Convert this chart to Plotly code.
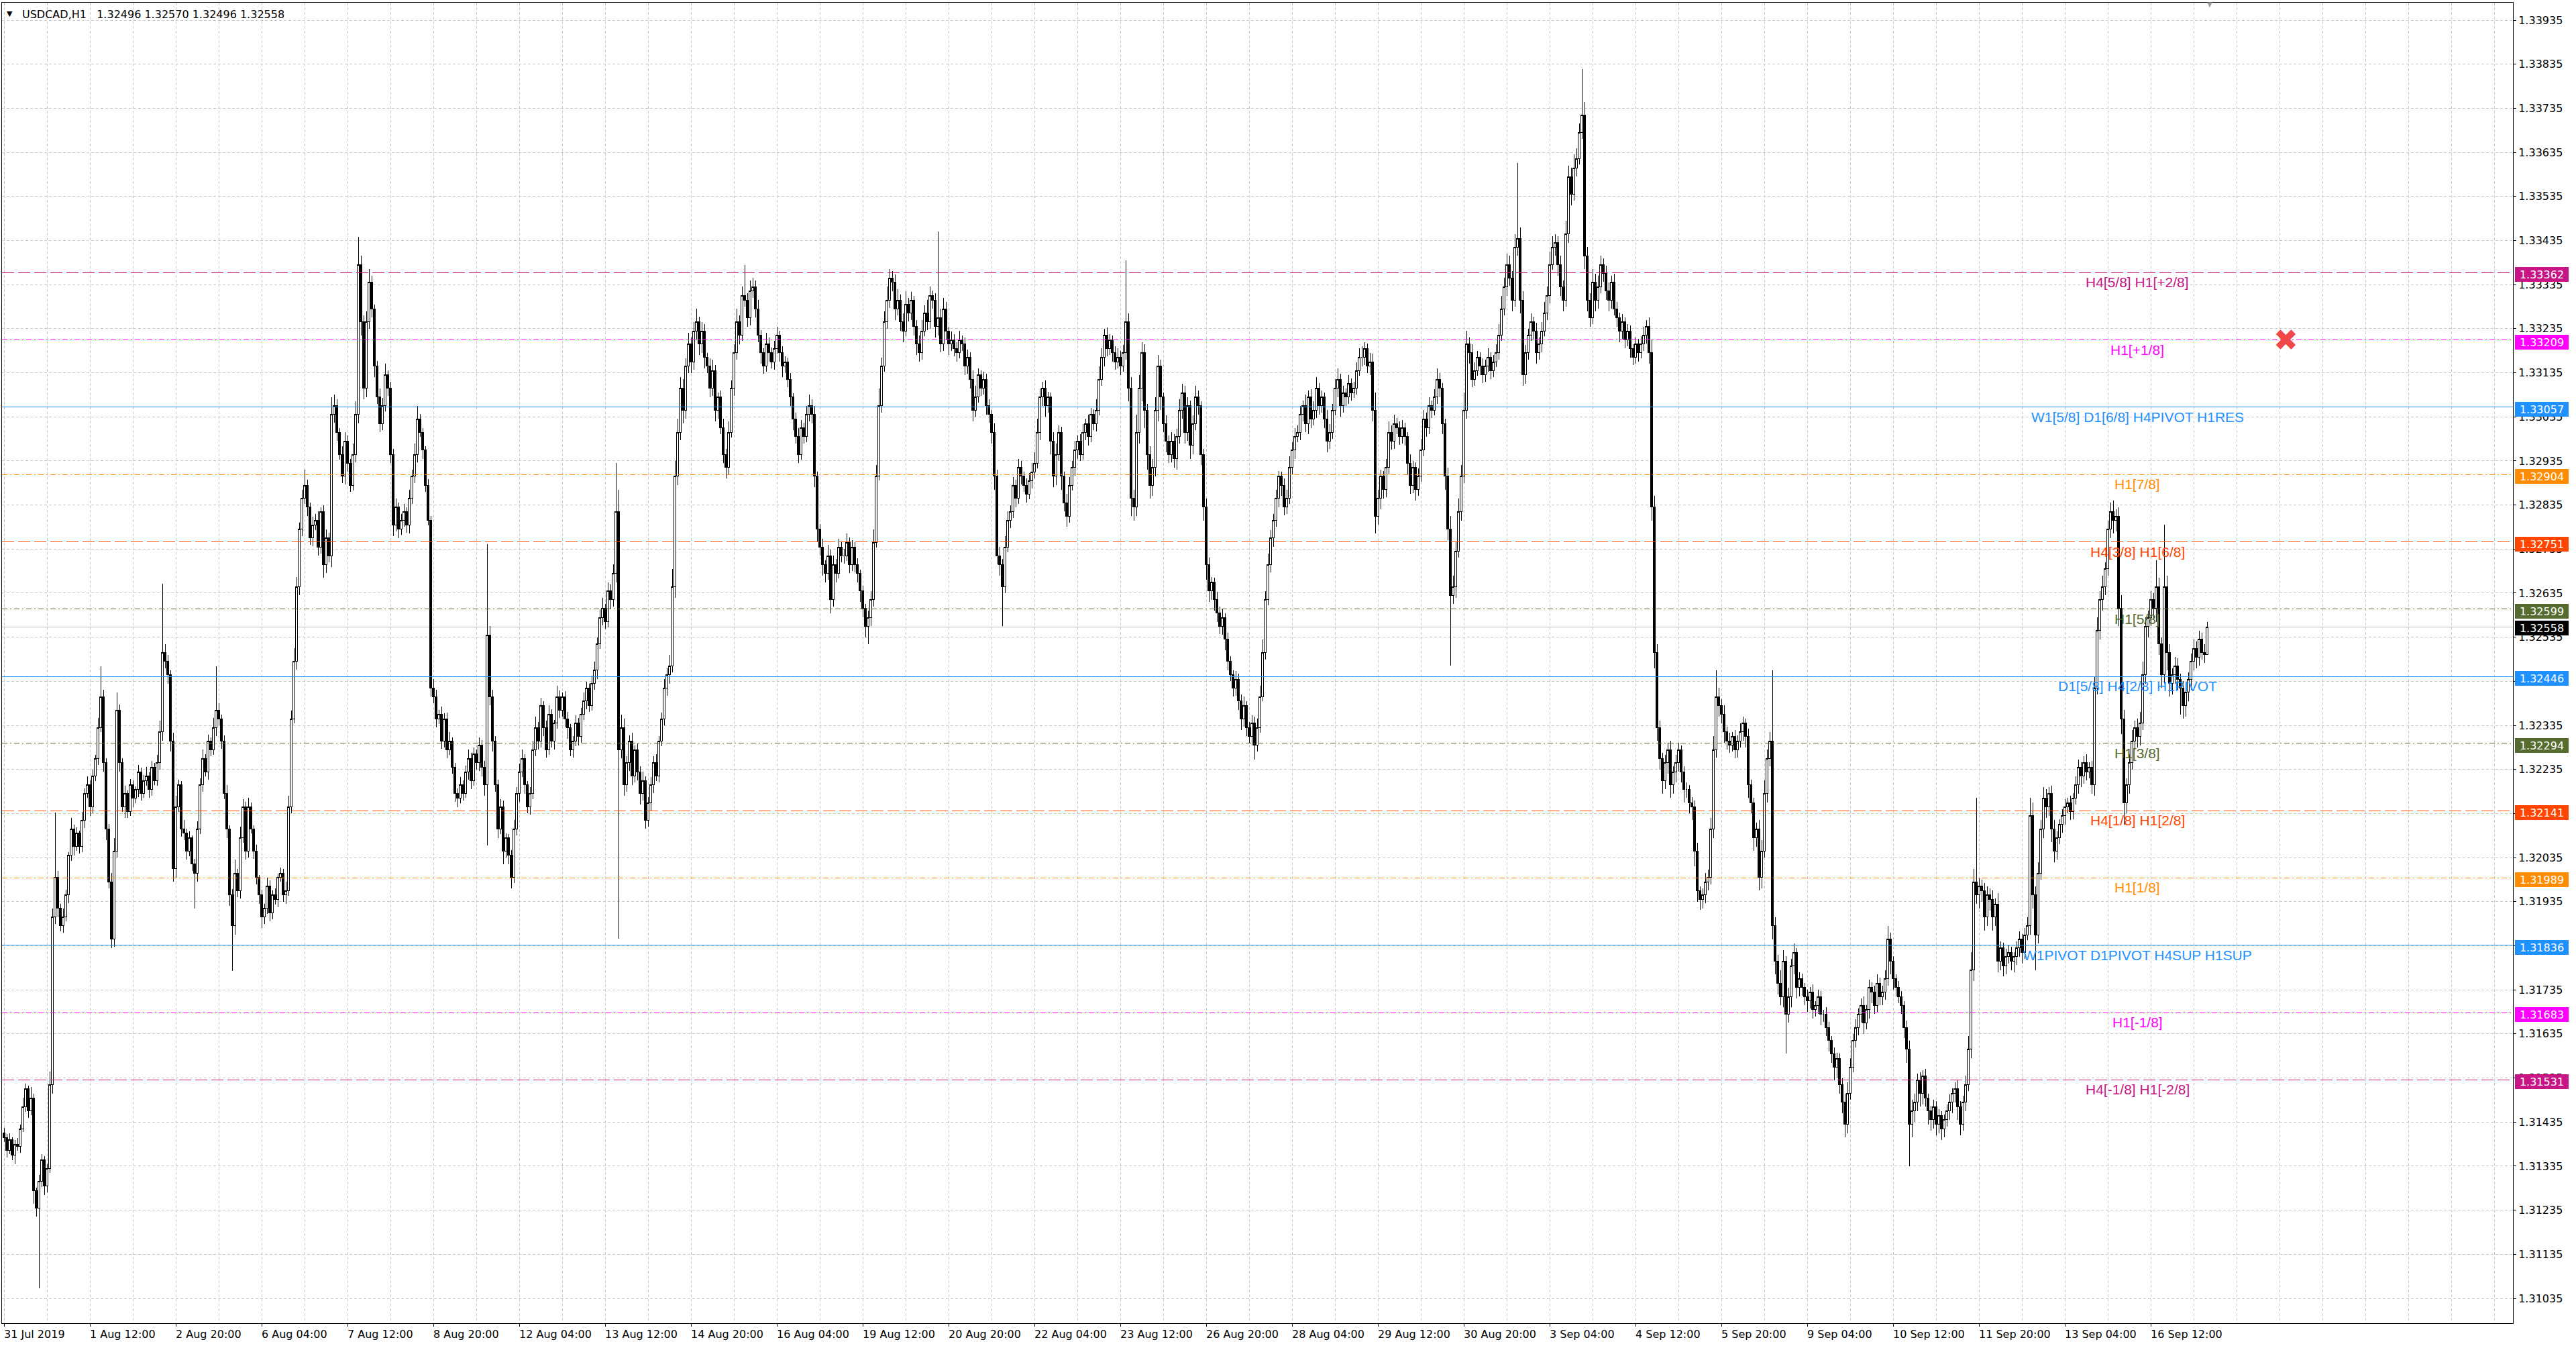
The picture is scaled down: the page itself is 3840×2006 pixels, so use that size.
import plotly.graph_objects as go

# ---------------- data (prices in points above 1.30000) ----------------
first_open = 1410
closes = [
    1400,1370,1395,1360,1385,1380,1420,1470,1510,1460,1490,1280,1240,1300,1350,1290,1330,1520,1900,1990,
    1920,1880,1900,1950,2040,2100,2060,2090,2060,2120,2180,2200,2150,2220,2260,2330,2400,2250,2100,1980,
    1850,2050,2370,2250,2150,2180,2140,2200,2170,2190,2230,2180,2210,2220,2190,2240,2210,2250,2320,2500,
    2480,2450,2300,2010,2150,2200,2100,2090,2050,2080,2020,2000,2100,2200,2260,2230,2300,2280,2330,2370,
    2350,2300,2180,2100,1950,1880,2000,1960,2080,2150,2050,2150,2100,2050,1990,1950,1900,1920,1970,1910,
    1950,1940,1990,2000,1950,1960,2150,2350,2480,2650,2780,2850,2880,2830,2760,2790,2800,2740,2820,2700,
    2760,2720,3040,3060,3000,2950,2900,2980,2930,2880,2950,3040,3380,3250,3100,3250,3340,3280,3150,3080,
    3020,3060,3130,3100,2950,2790,2830,2780,2800,2820,2790,2850,2900,2950,3030,3000,2960,2880,2800,2420,
    2400,2350,2360,2300,2350,2280,2300,2240,2180,2170,2200,2180,2230,2260,2210,2270,2250,2290,2240,2200,
    2540,2400,2300,2200,2100,2150,2050,2080,2040,1990,2100,2180,2230,2260,2200,2150,2180,2280,2330,2300,
    2380,2330,2280,2360,2300,2340,2400,2370,2400,2350,2330,2280,2300,2340,2310,2360,2390,2420,2380,2430,
    2460,2520,2580,2600,2570,2640,2620,2680,2820,2280,2330,2200,2250,2300,2220,2280,2230,2180,2210,2120,
    2160,2200,2250,2220,2300,2350,2420,2450,2470,2650,2900,3000,3100,3050,3150,3200,3160,3230,3250,3200,
    3230,3170,3150,3100,3140,3050,3080,3010,2950,2920,3000,3100,3180,3250,3220,3310,3300,3260,3320,3330,
    3280,3220,3180,3150,3200,3180,3160,3190,3220,3180,3150,3160,3120,3080,3030,2990,2950,3010,2990,3040,
    3060,3040,2900,2780,2740,2700,2680,2720,2620,2700,2680,2740,2720,2720,2750,2700,2740,2700,2680,2640,
    2600,2560,2580,2620,2750,2900,3060,3150,3250,3300,3350,3340,3280,3300,3250,3230,3290,3270,3300,3240,
    3200,3180,3230,3270,3250,3310,3300,3240,3260,3200,3280,3230,3200,3210,3190,3180,3210,3200,3150,3170,
    3120,3050,3080,3130,3100,3120,3060,3040,3000,2900,2720,2700,2650,2740,2800,2820,2880,2850,2920,2900,
    2880,2860,2890,2910,2930,3000,3080,3100,3060,3080,2980,2900,2950,3000,2900,2840,2810,2880,2920,2960,
    2980,2950,3000,3020,2990,3040,3020,3050,3120,3170,3220,3190,3210,3180,3160,3170,3150,3180,3250,3100,
    2850,2830,3000,3100,3180,3050,2950,2880,2920,3050,3150,3080,3020,2980,2950,2980,2940,2990,3050,3090,
    3000,3060,2970,3020,3080,3060,2950,2830,2700,2640,2660,2620,2590,2560,2580,2530,2480,2450,2420,2440,
    2390,2350,2380,2330,2310,2340,2290,2330,2400,2500,2620,2700,2760,2800,2850,2900,2880,2830,2850,2920,
    2960,2990,3000,3040,3060,3020,3080,3030,3050,3100,3060,3080,3030,2980,3000,3050,3100,3120,3060,3090,
    3080,3110,3090,3100,3140,3170,3170,3190,3150,3160,3050,2810,2850,2900,2870,2920,3000,2980,3020,3010,
    2990,3010,2990,2930,2880,2920,2870,2900,2960,3030,3010,3060,3050,3080,3120,3100,3020,2900,2780,2630,
    2650,2730,2820,2900,3050,3200,3180,3120,3140,3170,3150,3130,3150,3170,3140,3160,3180,3220,3280,3330,
    3380,3350,3300,3420,3440,3300,3130,3180,3220,3250,3230,3180,3200,3230,3270,3310,3380,3420,3430,3380,
    3330,3300,3450,3580,3540,3600,3620,3680,3720,3400,3300,3260,3340,3300,3330,3380,3360,3320,3300,3340,
    3280,3260,3230,3250,3210,3230,3190,3170,3200,3180,3200,3220,3240,3180,2830,2500,2330,2260,2210,2250,
    2280,2200,2230,2250,2280,2230,2190,2190,2160,2150,2050,1960,1940,1950,1980,1990,2100,2280,2400,2380,
    2360,2320,2300,2290,2310,2280,2300,2320,2340,2310,2200,2160,2080,2100,1990,2050,2180,2260,2300,1880,
    1800,1750,1720,1800,1680,1720,1790,1820,1740,1760,1740,1720,1710,1730,1690,1700,1720,1680,1680,1650,
    1620,1590,1560,1580,1520,1480,1430,1500,1560,1620,1650,1680,1700,1660,1690,1740,1730,1700,1750,1720,
    1730,1760,1850,1800,1760,1740,1720,1700,1650,1600,1430,1460,1480,1530,1500,1540,1490,1460,1440,1470,
    1430,1450,1420,1440,1460,1480,1500,1510,1470,1430,1480,1520,1600,1780,1980,1950,1970,1960,1900,1950,
    1940,1900,1930,1800,1830,1790,1810,1820,1800,1810,1830,1850,1820,1860,1880,2130,1950,1860,2000,2100,
    2170,2150,2180,2100,2050,2080,2110,2130,2150,2160,2140,2170,2200,2240,2220,2250,2230,2240,2200,2420,
    2550,2620,2650,2690,2780,2820,2800,2810,2600,2350,2160,2200,2250,2300,2330,2310,2340,2450,2560,2580,
    2620,2600,2650,2520,2450,2650,2500,2430,2450,2470,2440,2420,2380,2410,2440,2480,2510,2490,2530,2500,
    2496,2558,
]
upper_wicks = [
    12,8,15,6,10,14,9,20,12,8,25,10,6,15,12,8,10,30,20,147,
    15,10,20,12,8,25,10,14,6,18,12,20,10,15,8,22,69,15,10,12,
    20,30,40,12,10,18,8,14,10,6,15,9,12,20,8,14,10,18,25,157,
    20,15,10,18,25,12,8,20,10,14,6,12,18,15,20,10,14,8,22,99,
    15,10,12,20,8,14,30,10,25,18,12,20,10,8,14,6,12,10,20,14,
    10,15,8,12,10,20,25,18,30,22,15,20,35,12,10,18,14,20,10,15,
    20,12,40,25,15,10,18,20,12,10,25,30,63,20,15,25,30,15,10,12,
    20,18,25,10,15,12,20,10,14,18,10,20,15,25,30,12,10,8,14,10,
    20,15,10,18,12,14,20,8,10,12,18,10,14,20,12,15,10,18,12,14,
    206,20,15,10,12,18,14,10,8,12,20,15,18,20,10,8,15,20,25,12,
    18,10,15,20,12,8,25,14,10,12,15,8,10,18,12,15,20,14,10,18,
    20,15,18,25,10,20,14,20,110,50,30,20,15,12,18,10,14,12,20,10,
    12,18,15,20,10,14,20,15,25,40,35,30,25,20,18,25,15,20,30,12,
    20,15,10,18,25,12,10,15,20,12,25,18,20,30,15,20,70,15,25,20,
    15,20,12,10,25,15,12,18,20,10,15,12,10,14,8,15,20,18,12,20,
    25,15,20,10,12,18,10,25,14,20,12,18,10,15,20,12,15,10,14,8,
    12,10,15,20,30,25,40,20,25,30,20,15,18,25,12,20,30,15,18,10,
    15,20,25,18,30,20,12,15,196,20,25,15,10,18,12,15,20,10,15,18,
    12,20,25,15,10,18,12,15,10,20,15,20,12,25,20,15,18,12,20,15,
    10,15,18,20,25,30,20,15,18,12,10,20,25,15,12,10,20,18,15,20,
    12,15,18,10,20,15,12,25,30,20,15,18,12,10,15,20,14,18,140,20,
    25,20,40,30,25,20,15,18,20,30,25,15,10,18,12,20,15,18,25,20,
    15,20,12,18,25,15,10,12,20,15,12,10,18,14,20,10,15,12,10,18,
    12,15,20,10,12,18,15,20,25,30,20,25,18,15,20,12,10,15,20,25,
    18,20,15,20,12,25,15,18,20,25,12,15,10,20,18,15,20,25,12,15,
    10,20,12,15,18,20,25,15,12,20,18,40,20,15,12,20,25,15,20,12,
    15,18,12,10,20,15,12,18,25,20,15,20,12,18,25,15,12,10,20,30,
    25,20,30,25,40,30,15,20,18,15,12,18,15,20,12,15,20,25,30,20,
    25,20,15,30,170,25,20,18,15,20,12,18,15,20,25,20,30,25,20,15,
    20,15,30,25,20,30,25,20,104,30,20,15,30,20,25,20,15,18,20,15,
    20,15,12,18,10,15,12,10,15,12,18,20,15,20,30,25,20,15,12,18,
    15,20,12,18,15,10,12,15,10,12,15,18,10,15,20,18,25,30,60,20,
    15,20,12,18,10,15,12,20,15,10,18,12,10,15,20,25,30,20,20,160,
    20,15,30,25,12,20,15,20,10,15,12,10,15,12,18,10,15,12,10,15,
    12,10,15,12,10,15,20,25,20,15,18,12,15,20,10,18,12,15,20,12,
    15,20,30,15,12,10,15,12,10,15,20,25,20,15,18,12,15,10,12,15,
    12,15,10,12,15,18,12,15,20,12,15,20,30,40,30,190,20,15,18,20,
    15,20,12,25,15,12,18,15,12,10,15,18,12,15,20,40,30,20,25,20,
    25,20,15,18,20,15,12,15,18,10,15,12,20,18,12,15,20,12,15,25,
    30,20,25,15,20,20,25,15,20,30,20,15,20,25,15,20,25,30,20,15,
    20,15,59,20,15,140,25,20,15,20,18,12,15,20,15,18,20,15,20,15,
    20,12,
]
lower_wicks = [
    10,15,8,12,20,10,14,8,12,15,10,30,20,182,12,20,15,10,20,15,
    20,12,15,10,18,12,20,10,15,12,18,10,20,14,12,15,10,20,25,15,
    20,18,15,20,12,25,15,10,20,12,18,15,10,12,20,15,10,12,15,20,
    15,20,25,30,20,12,18,15,20,12,15,80,20,12,15,10,18,15,12,20,
    15,18,12,20,25,102,20,15,18,12,20,15,10,18,15,20,25,15,12,20,
    15,12,18,10,15,20,12,15,10,18,20,15,12,20,15,18,12,20,15,30,
    20,15,25,18,20,12,15,18,20,15,12,18,20,30,25,20,15,20,25,15,
    20,15,12,18,20,25,15,20,12,15,18,20,12,15,18,10,20,15,12,20,
    15,20,12,18,15,20,12,15,18,20,12,15,10,18,20,12,15,18,20,25,
    137,20,25,15,20,12,30,15,20,25,12,15,18,12,20,15,18,12,15,20,
    15,20,18,12,15,20,12,18,15,20,25,15,18,12,20,15,12,18,15,12,
    15,20,12,18,15,12,20,15,20,429,20,25,15,18,20,15,20,25,15,20,
    15,20,18,12,15,12,15,18,20,15,25,20,18,30,20,15,25,18,20,25,
    20,25,15,20,18,25,20,15,20,25,15,12,18,15,20,12,15,20,18,15,
    20,15,25,18,12,20,15,18,12,20,25,15,18,20,25,15,20,12,15,12,
    15,20,25,30,20,25,20,15,30,15,20,12,15,18,12,20,15,18,20,25,
    20,25,40,20,15,12,10,15,12,15,18,20,25,15,20,25,12,18,15,20,
    25,20,15,12,18,15,20,25,20,18,15,20,25,15,18,20,12,15,20,18,
    20,25,15,12,18,15,20,18,25,30,20,25,90,15,12,18,15,20,12,18,
    15,20,12,18,15,12,18,20,25,15,30,25,20,15,30,20,25,15,12,18,
    20,15,12,18,20,12,15,18,12,15,20,18,15,20,18,15,20,12,15,30,
    40,30,20,25,30,40,35,30,25,20,25,30,20,25,20,18,20,25,15,20,
    25,20,30,20,15,20,25,30,35,25,20,25,20,18,20,25,20,15,20,18,
    20,25,18,20,15,20,33,15,12,10,15,12,18,20,15,20,25,18,15,12,
    15,20,12,18,15,20,25,20,15,18,20,15,20,25,18,15,12,20,25,15,
    20,15,18,12,15,12,20,18,15,20,25,40,20,25,20,18,15,20,18,15,
    18,15,20,25,20,18,25,15,12,15,20,15,18,12,15,20,25,30,25,160,
    20,25,15,20,15,20,25,18,15,12,20,18,15,12,20,15,12,15,12,15,
    20,18,25,15,20,30,25,20,15,12,20,25,15,18,12,15,18,12,20,25,
    20,25,15,20,25,15,20,12,15,30,25,20,15,25,20,15,18,20,25,20,
    15,20,25,18,20,15,20,18,15,20,12,15,18,25,30,35,30,25,30,20,
    25,30,20,25,20,25,30,20,25,30,35,25,24,20,18,20,15,20,18,25,
    20,25,20,18,15,20,18,15,20,25,30,25,30,20,30,25,15,20,18,30,
    30,25,20,25,90,20,25,20,25,20,18,20,25,18,20,15,20,25,18,20,
    25,20,30,25,20,25,30,20,15,12,15,18,20,25,15,20,25,20,15,20,
    20,18,15,30,25,20,15,20,25,30,95,30,25,20,30,25,20,30,25,20,
    25,20,25,20,15,20,25,20,30,25,15,20,15,20,25,20,30,25,30,20,
    25,30,20,25,20,25,20,15,20,25,18,20,25,15,12,20,30,80,20,15,
    20,25,20,30,25,20,15,18,20,15,20,18,15,20,25,18,20,15,20,25,
    15,20,25,20,15,20,30,25,40,35,50,25,20,15,20,25,20,15,20,25,
    20,25,30,25,30,20,40,30,25,20,25,60,30,25,20,25,20,25,20,15,
    20,0,
]

y_ticks = [1.33935, 1.33835, 1.33735, 1.33635, 1.33535, 1.33435, 1.33335, 1.33235,
           1.33135, 1.33035, 1.32935, 1.32835, 1.32735, 1.32635, 1.32535, 1.32435,
           1.32335, 1.32235, 1.32135, 1.32035, 1.31935, 1.31835, 1.31735, 1.31635,
           1.31535, 1.31435, 1.31335, 1.31235, 1.31135, 1.31035]
x_labels = ["31 Jul 2019", "1 Aug 12:00", "2 Aug 20:00", "6 Aug 04:00", "7 Aug 12:00",
            "8 Aug 20:00", "12 Aug 04:00", "13 Aug 12:00", "14 Aug 20:00", "16 Aug 04:00",
            "19 Aug 12:00", "20 Aug 20:00", "22 Aug 04:00", "23 Aug 12:00", "26 Aug 20:00",
            "28 Aug 04:00", "29 Aug 12:00", "30 Aug 20:00", "3 Sep 04:00", "4 Sep 12:00",
            "5 Sep 20:00", "9 Sep 04:00", "10 Sep 12:00", "11 Sep 20:00", "13 Sep 04:00",
            "16 Sep 12:00"]
bars_per_label = 32

levels = [1.33362, 1.33209, 1.33057, 1.32904, 1.32751, 1.32599, 1.32446,
          1.32294, 1.32141, 1.31989, 1.31836, 1.31683, 1.31531]
level_names = ["H4[5/8] H1[+2/8]", "H1[+1/8]", "W1[5/8] D1[6/8] H4PIVOT H1RES", "H1[7/8]",
               "H4[3/8] H1[6/8]", "H1[5/8]", "D1[5/8] H4[2/8] H1PIVOT", "H1[3/8]",
               "H4[1/8] H1[2/8]", "H1[1/8]", "W1PIVOT D1PIVOT H4SUP H1SUP", "H1[-1/8]",
               "H4[-1/8] H1[-2/8]"]
level_colors = ["#C71585", "#FF00FF", "#1E90FF", "#FF8C00", "#FF4500", "#556B2F", "#1E90FF",
                "#556B2F", "#FF4500", "#FF8C00", "#1E90FF", "#FF00FF", "#C71585"]
level_dash = ["dash", "dashdot", "solid", "dashdot", "dash", "dashdot", "solid",
              "dashdot", "dash", "dashdot", "solid", "dashdot", "dash"]

# ---------------- build OHLC ----------------
n = min(len(closes), len(upper_wicks), len(lower_wicks))
closes = closes[:n]
base, pt = 1.30000, 0.00001
opens_p = [first_open] + closes[:-1]
o = [base + v * pt for v in opens_p]
c = [base + v * pt for v in closes]
h = [base + (max(a, b) + u) * pt for a, b, u in zip(opens_p, closes, upper_wicks)]
l = [base + (min(a, b) - d) * pt for a, b, d in zip(opens_p, closes, lower_wicks)]
xs = list(range(n))

W, H = 3840, 2006
ML, MR, MT, MB = 3, 94, 4, 34
plot_w = W - ML - MR
bar_px = 4.0
x_left = -0.75
x_right = x_left + plot_w / bar_px
px_per_unit = 65690.0
y_top = 1.33935 + 26 / px_per_unit
y_bot = y_top - (H - MT - MB) / px_per_unit

fig = go.Figure()
fig.add_trace(go.Candlestick(
    x=xs, open=o, high=h, low=l, close=c,
    increasing=dict(line=dict(color="black", width=1), fillcolor="white"),
    decreasing=dict(line=dict(color="black", width=1), fillcolor="black"),
    whiskerwidth=0, showlegend=False, hoverinfo="skip"))

dash_map = {"solid": "solid", "dash": "18px,6px", "dashdot": "8px,4px,2px,4px"}
shapes = []
last_price = c[-1]
shapes.append(dict(type="line", xref="paper", x0=0, x1=1, yref="y", y0=last_price, y1=last_price,
                   line=dict(color="#C0C0C0", width=1), layer="below"))
for lv, col, ds in zip(levels, level_colors, level_dash):
    shapes.append(dict(type="line", xref="paper", x0=0, x1=1, yref="y", y0=lv, y1=lv,
                       line=dict(color=col, width=1, dash=dash_map[ds]), layer="above"))

ann = []
# header
ann.append(dict(xref="paper", yref="paper", x=0, y=1, xanchor="left", yanchor="middle",
                xshift=5, yshift=-16, showarrow=False, text="\u25BC",
                font=dict(family="DejaVu Sans", size=11, color="black")))
ann.append(dict(xref="paper", yref="paper", x=0, y=1, xanchor="left", yanchor="middle",
                xshift=28, yshift=-17, showarrow=False,
                text="USDCAD,H1\u00a0\u00a0\u00a0%.5f %.5f %.5f %.5f" % (o[-1], h[-1], l[-1], c[-1]),
                font=dict(family="DejaVu Sans", size=16, color="black")))
# level labels
label_bar = 795
for lv, name, col in zip(levels, level_names, level_colors):
    ann.append(dict(xref="x", yref="y", x=label_bar, y=lv, xanchor="center", yanchor="top",
                    yshift=-1, showarrow=False, text=name,
                    font=dict(family="Liberation Sans", size=21, color=col)))
# price boxes on right axis
for lv, col in zip(levels, level_colors):
    ann.append(dict(xref="paper", yref="y", x=1, y=lv, xanchor="left", yanchor="middle",
                    xshift=3, yshift=-3, showarrow=False, text="%.5f" % lv,
                    bgcolor=col, width=76, height=18, borderpad=2, borderwidth=0,
                    font=dict(family="DejaVu Sans", size=16, color="white")))
ann.append(dict(xref="paper", yref="y", x=1, y=last_price, xanchor="left", yanchor="middle",
                xshift=3, yshift=-1, showarrow=False, text="%.5f" % last_price,
                bgcolor="black", width=76, height=18, borderpad=2, borderwidth=0,
                font=dict(family="DejaVu Sans", size=16, color="white")))
# x labels
for k, lab in enumerate(x_labels):
    ann.append(dict(xref="x", yref="paper", x=k * bars_per_label, y=0, xanchor="left",
                    yanchor="top", xshift=-2, yshift=-5, showarrow=False, text=lab,
                    font=dict(family="DejaVu Sans", size=16, color="black")))
# red close cross on the H1[+1/8] line
ann.append(dict(xref="paper", yref="y", x=(3407 - ML) / plot_w, y=levels[1], showarrow=False,
                text="\u2716", font=dict(family="DejaVu Sans", size=44, color="#F04848"),
                xanchor="center", yanchor="middle"))
# chart shift marker
ann.append(dict(xref="x", yref="paper", x=n, y=1, showarrow=False, text="\u25BC",
                font=dict(family="DejaVu Sans", size=10, color="#A0A0A0"),
                xanchor="center", yanchor="middle", yshift=-2))

grid_col = "#C8C8C8"
fig.update_layout(
    width=W, height=H, margin=dict(l=ML, r=MR, t=MT, b=MB, autoexpand=False),
    paper_bgcolor="white", plot_bgcolor="white",
    font=dict(family="DejaVu Sans", size=16, color="black"),
    shapes=shapes, annotations=ann, showlegend=False, boxgap=0.25,
    xaxis=dict(range=[x_left, x_right], rangeslider=dict(visible=False),
               tickmode="array", tickvals=[k * bars_per_label for k in range(len(x_labels))],
               ticktext=[""] * len(x_labels), showticklabels=False,
               ticks="outside", ticklen=4, tickcolor="black",
               showgrid=True, gridcolor=grid_col, griddash="4px,3px", gridwidth=1,
               minor=dict(tick0=0, dtick=16, showgrid=True, gridcolor=grid_col,
                          griddash="4px,3px", ticks=""),
               showline=True, mirror=True, linecolor="black", linewidth=1,
               zeroline=False, fixedrange=True),
    yaxis=dict(range=[y_bot, y_top], side="right", tickmode="array", tickvals=y_ticks,
               ticktext=["%.5f" % v for v in y_ticks], ticks="outside", ticklen=4,
               tickcolor="black", showgrid=True, gridcolor=grid_col, griddash="4px,3px",
               showline=True, mirror=True, linecolor="black", linewidth=1,
               zeroline=False, tickfont=dict(family="DejaVu Sans", size=16, color="black")),
)
post = ("document.body.style.margin='0';document.body.style.overflow='hidden';"
        "document.querySelectorAll('.main-svg path').forEach(function(p){"
        "p.style.shapeRendering='crispEdges';});")
fig.write_html("out.html", config={"displayModeBar": False}, post_script=post)
